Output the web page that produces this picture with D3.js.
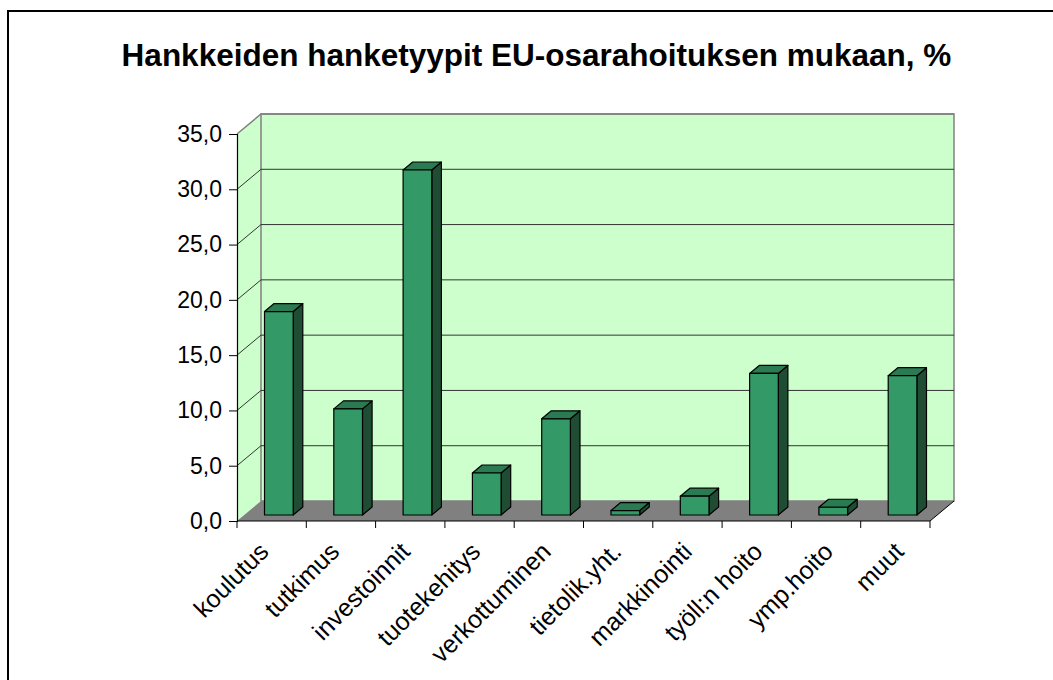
<!DOCTYPE html>
<html><head><meta charset="utf-8">
<script src="https://cdn.jsdelivr.net/npm/d3@7"></script>
<style>body{margin:0;background:#fff}svg{display:block}text{font-family:Arial,"Liberation Sans",sans-serif}</style>
</head><body>
<svg id="c" width="1053" height="680"></svg>
<script>
const title = "Hankkeiden hanketyypit EU-osarahoituksen mukaan, %";
const categories = ["koulutus","tutkimus","investoinnit","tuotekehitys","verkottuminen","tietolik.yht.","markkinointi","työll:n hoito","ymp.hoito","muut"];
const values = [18.4, 9.6, 31.2, 3.8, 8.7, 0.4, 1.7, 12.8, 0.7, 12.6];
const yTicks = [0,5,10,15,20,25,30,35];

const svg = d3.select("#c");
const pLeft = 237, pRight = 930, pBottom = 521, pTop = 134;
const DX = 24, DY = -20;          // depth of the 3D box
const f0 = 0.3, f1 = 0.7;         // bar depth fraction

const x = d3.scaleBand().domain(categories).range([pLeft, pRight]).paddingInner(0.586).paddingOuter(0.293);
const xLab = d3.scalePoint().domain(categories).range([264, 899]);
const y = d3.scaleLinear().domain([0, 35]).range([pBottom, pTop]);
const fmt = d => d3.format(".1f")(d).replace(".", ",");

// outer border
svg.append("rect").attr("x", 8).attr("y", 11).attr("width", 1100).attr("height", 720)
  .attr("fill", "none").attr("stroke", "#000").attr("stroke-width", 2);

// title
svg.append("text").attr("x", 536.5).attr("y", 66).attr("text-anchor", "middle")
  .attr("font-size", 31.5).attr("font-weight", "bold").text(title);

const pt = (px, py) => px + "," + py;
// walls
svg.append("polygon").attr("points", [pt(pLeft, y(0)), pt(pLeft, y(35)), pt(pLeft+DX, y(35)+DY), pt(pLeft+DX, y(0)+DY)].join(" "))
  .attr("fill", "#CCFFCC");
svg.append("polygon").attr("points", [pt(pLeft+DX, y(0)+DY), pt(pLeft+DX, y(35)+DY), pt(pRight+DX, y(35)+DY), pt(pRight+DX, y(0)+DY)].join(" "))
  .attr("fill", "#CCFFCC").attr("stroke", "#808080").attr("stroke-width", 1.5);
// floor
svg.append("polygon").attr("points", [pt(pLeft, y(0)), pt(pRight, y(0)), pt(pRight+DX, y(0)+DY), pt(pLeft+DX, y(0)+DY)].join(" "))
  .attr("fill", "#808080");
svg.append("line").attr("x1", pRight).attr("y1", y(0)).attr("x2", pRight+DX).attr("y2", y(0)+DY).attr("stroke", "#000");

// gridlines
const grid = svg.append("g");
yTicks.filter(t => t > 0).forEach(t => {
  const col = t === 35 ? "#808080" : "#333333";
  grid.append("polyline").attr("points", [pt(pLeft, y(t)), pt(pLeft+DX, y(t)+DY), pt(pRight+DX, y(t)+DY)].join(" "))
    .attr("fill", "none").attr("stroke", col).attr("stroke-width", t === 35 ? 1.5 : 1);
});

// bars
const bars = svg.append("g").attr("stroke", "#000").attr("stroke-width", 1.2).attr("stroke-linejoin", "round");
categories.forEach((c, i) => {
  const v = values[i];
  const x0 = x(c) + f0*DX, x1 = x0 + x.bandwidth();
  const yb = y(0) + f0*DY, yt = y(v) + f0*DY;
  const ddx = (f1-f0)*DX, ddy = (f1-f0)*DY;
  bars.append("polygon").attr("points", [pt(x1, yb), pt(x1+ddx, yb+ddy), pt(x1+ddx, yt+ddy), pt(x1, yt)].join(" ")).attr("fill", "#1f4d34");
  bars.append("polygon").attr("points", [pt(x0, yt), pt(x1, yt), pt(x1+ddx, yt+ddy), pt(x0+ddx, yt+ddy)].join(" ")).attr("fill", "#2a7a52");
  bars.append("rect").attr("x", x0).attr("y", yt).attr("width", x.bandwidth()).attr("height", yb - yt).attr("fill", "#339966");
});

// y axis
const ya = svg.append("g").attr("transform", `translate(${pLeft},0)`)
  .call(d3.axisLeft(y).tickValues(yTicks).tickFormat(fmt).tickSize(8).tickPadding(7));
ya.select(".domain").attr("stroke", "#000").attr("stroke-width", 1.2);
ya.selectAll(".tick line").attr("stroke", "#000");
ya.selectAll("text").attr("font-size", 23).attr("font-family", "Arial, 'Liberation Sans', sans-serif").attr("fill", "#000");

// x axis
const xa = svg.append("g").attr("transform", `translate(0,${pBottom})`);
xa.append("line").attr("x1", pLeft).attr("x2", pRight).attr("stroke", "#000").attr("stroke-width", 1.2);
const step = x.step();
d3.range(categories.length + 1).forEach(i => {
  const tx = pLeft + i*step;
  xa.append("line").attr("x1", tx).attr("x2", tx).attr("y1", 0).attr("y2", 7).attr("stroke", "#000");
});
categories.forEach(c => {
  xa.append("text").attr("transform", `translate(${xLab(c)},26) rotate(-45)`)
    .attr("text-anchor", "end").attr("dy", "0.35em").attr("font-size", 25).text(c);
});
</script>
</body></html>
